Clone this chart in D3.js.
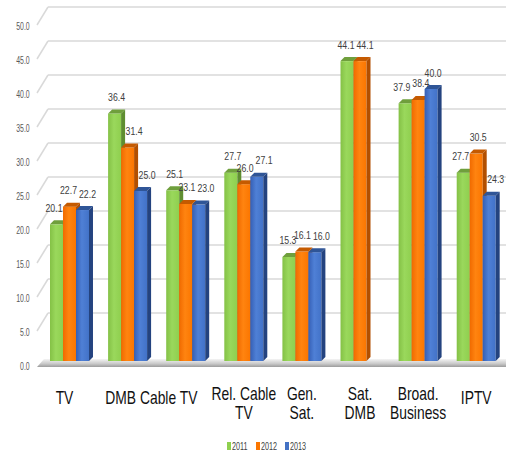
<!DOCTYPE html>
<html><head><meta charset="utf-8">
<script src="https://cdn.jsdelivr.net/npm/d3@7"></script>
<style>body{margin:0;background:#fff}svg{display:block}</style>
</head><body><svg id="c" width="506" height="454"></svg>
<script>
// ---------- data ----------
const categories = ["TV", "DMB", "Cable TV", "Rel. Cable TV", "Gen. Sat.", "Sat. DMB", "Broad. Business", "IPTV"];
const categoryLines = [["TV"], ["DMB"], ["Cable TV"], ["Rel. Cable", "TV"], ["Gen.", "Sat."], ["Sat.", "DMB"], ["Broad.", "Business"], ["IPTV"]];
const years = ["2011", "2012", "2013"];
const values2011 = [20.1, 36.4, 25.1, 27.7, 15.3, 44.1, 37.9, 27.7];
const values2012 = [22.7, 31.4, 23.1, 26.0, 16.1, 44.1, 38.4, 30.5];
const values2013 = [22.2, 25.0, 23.0, 27.1, 16.0, null, 40.0, 24.3];
const yTicks = [0, 5, 10, 15, 20, 25, 30, 35, 40, 45, 50];

// ---------- drawing ----------
const seriesValues = [values2011, values2012, values2013];
const W = 506, H = 454;
const svg = d3.select("#c");
const defs = svg.append("defs");
const FONT = "'Liberation Sans',Arial,sans-serif";

const y = d3.scaleLinear().domain([0, 50]).range([366, 26]);
const x0 = d3.scaleBand().domain(categories).range([50, 495.7]).paddingInner(0.329).paddingOuter(0);
const x1 = d3.scaleBand().domain(years).range([0, x0.bandwidth()]);

const colors = {
  "2011": {front: ["#84c146", "#9ad85c", "#8fcf4f"], top: "#6f9f3c", side: "#5f8e31", legend: "#8fd04f"},
  "2012": {front: ["#f06a00", "#ff8410", "#fb7600"], top: "#c55a00", side: "#b24f00", legend: "#fb7600"},
  "2013": {front: ["#355fb5", "#4f80d6", "#4272c8"], top: "#2f5597", side: "#24437f", legend: "#4472c4"}
};
years.forEach(yr => {
  const g = defs.append("linearGradient").attr("id", "g" + yr).attr("x1", 0).attr("x2", 1).attr("y1", 0).attr("y2", 0);
  g.append("stop").attr("offset", "0%").attr("stop-color", colors[yr].front[0]);
  g.append("stop").attr("offset", "45%").attr("stop-color", colors[yr].front[1]);
  g.append("stop").attr("offset", "100%").attr("stop-color", colors[yr].front[2]);
});
const fg = defs.append("linearGradient").attr("id", "floor").attr("x1", 0).attr("x2", 0).attr("y1", 0).attr("y2", 1);
fg.append("stop").attr("offset", "0%").attr("stop-color", "#f4f4f4");
fg.append("stop").attr("offset", "60%").attr("stop-color", "#c8c8c8");
fg.append("stop").attr("offset", "100%").attr("stop-color", "#9c9c9c");

// condensed text helper
function ctext(g, x, yy, str, sx) {
  return g.append("text").attr("transform", `translate(${x},${yy}) scale(${sx},1)`).text(str);
}

// back wall & side wall gridlines
const BACK_DX = 11, BACK_DY = -19, SIDE_X = 37;
const grid = svg.append("g").attr("stroke", "#d9d9d9").attr("stroke-width", 1.5).attr("fill", "none");
yTicks.filter(v => v > 0).forEach(v => {
  grid.append("line").attr("x1", SIDE_X + BACK_DX).attr("x2", W).attr("y1", y(v) + BACK_DY).attr("y2", y(v) + BACK_DY);
  grid.append("line").attr("x1", SIDE_X).attr("x2", SIDE_X + BACK_DX).attr("y1", y(v) - 1).attr("y2", y(v) + BACK_DY);
});

// floor
const base = y(0);
svg.append("path")
  .attr("d", `M${SIDE_X},${base + 1} L${SIDE_X + 7},${base - 7} L${W},${base - 7} L${W},${base + 1} Z`)
  .attr("fill", "url(#floor)");

// y axis labels
const yAxis = svg.append("g").attr("transform", "translate(31,0)")
  .call(d3.axisLeft(y).tickValues(yTicks).tickFormat(d3.format(".1f")).tickSize(0).tickPadding(2));
yAxis.select(".domain").remove();
yAxis.selectAll("text").attr("fill", "#595959").style("font-family", FONT).style("font-size", "10.5px")
  .attr("transform", "scale(0.66,1)");

// bars
const BAR_DY = -5, DEP = 4;
const barBase = base + BAR_DY;
const bars = svg.append("g");
const barInfo = [];
categories.forEach((c, ci) => {
  years.forEach((yr, si) => {
    const v = seriesValues[si][ci];
    if (v == null) return;
    const bx = x0(c) + x1(yr), bw = x1.bandwidth();
    const top = y(v) + BAR_DY;
    bars.append("rect").attr("x", bx).attr("y", top).attr("width", bw).attr("height", barBase - top)
      .attr("fill", `url(#g${yr})`);
    bars.append("path").attr("d", `M${bx},${top} L${bx + bw},${top} L${bx + bw + DEP},${top - DEP} L${bx + DEP},${top - DEP} Z`)
      .attr("fill", colors[yr].top);
    bars.append("path").attr("d", `M${bx + bw},${top} L${bx + bw + DEP},${top - DEP} L${bx + bw + DEP},${barBase - DEP} L${bx + bw},${barBase} Z`)
      .attr("fill", colors[yr].side);
    barInfo.push({ci, si, v, bx, bw, top});
  });
});

// value labels: placed above bar, pushed off neighbouring taller bars, then spread apart
const VS = 0.76, LH = 8;
const vl = svg.append("g").attr("fill", "#404040").style("font-family", FONT).style("font-size", "11.5px").attr("text-anchor", "middle");
const labs = barInfo.map(b => {
  const t = ctext(vl, 0, 0, d3.format(".1f")(b.v), VS);
  return {b, t, w: t.node().getComputedTextLength() * VS, x: b.bx + b.bw / 2 + DEP / 2, y: y(b.v) - 17.5};
});
d3.groups(labs, l => l.b.ci).forEach(([ci, group]) => {
  group.forEach(l => {
    group.forEach(o => {
      if (o === l) return;
      const bx0 = o.b.bx, bx1 = o.b.bx + o.b.bw + DEP, by0 = o.b.top - DEP;
      const lx0 = l.x - l.w / 2, lx1 = l.x + l.w / 2;
      if (lx1 > bx0 && lx0 < bx1 && l.y > by0) {
        if (o.b.bx > l.b.bx) l.x = bx0 - 0.5 - l.w / 2;
        else l.x = bx1 + 0.5 + l.w / 2;
      }
    });
  });
  for (let i = 0; i < group.length; i++) {
    for (let j = i + 1; j < group.length; j++) {
      const a = group[i], b = group[j];
      if (Math.abs(a.y - b.y) >= LH + 1) continue;
      const over = (a.x + a.w / 2 + 2) - (b.x - b.w / 2);
      if (over > 0) { a.x -= over / 2; b.x += over / 2; }
    }
  }
});
labs.forEach(l => l.t.attr("transform", `translate(${l.x},${l.y}) scale(${VS},1)`));

// category labels
const labelNudge = {"TV": -5, "DMB": -7, "Cable TV": -17};
const cl = svg.append("g").attr("fill", "#111").style("font-family", FONT).style("font-size", "18px").attr("text-anchor", "middle");
categories.forEach((c, ci) => {
  const lines = categoryLines[ci];
  const cx = x0(c) + x0.bandwidth() / 2 + (labelNudge[c] || 0);
  const y0 = lines.length > 1 ? 400 : 404;
  lines.forEach((ln, i) => ctext(cl, cx, y0 + i * 19, ln, 0.77));
});

// legend
const lg = svg.append("g").style("font-family", FONT).style("font-size", "10px").attr("fill", "#404040");
years.forEach((yr, i) => {
  const lx = 227 + i * 29;
  lg.append("rect").attr("x", lx).attr("y", 442).attr("width", 4).attr("height", 8).attr("fill", colors[yr].legend);
  ctext(lg, lx + 5, 450, yr, 0.72);
});
</script>
</body></html>
